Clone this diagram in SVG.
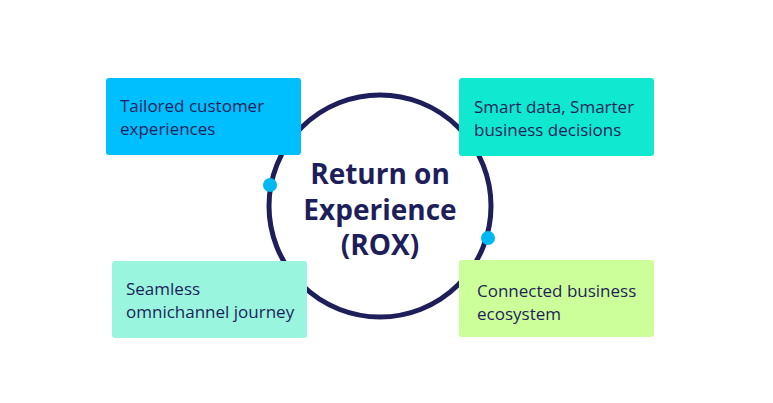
<svg xmlns="http://www.w3.org/2000/svg" width="773" height="403" viewBox="0 0 773 403">
<style>
.t{font-family:"Open Sans","Liberation Sans",sans-serif;font-size:17px;fill:#1e1e5a}
.c{font-family:"Open Sans","Liberation Sans",sans-serif;font-size:28px;font-weight:bold;fill:#1e1e5a;text-anchor:middle}
.dot{fill:#00b8f2}
rect.b{rx:3px}
</style>
<rect width="773" height="403" fill="#fff"/>
<g id="connectors">
<circle cx="380" cy="206" r="111" fill="none" stroke="#1e1e5a" stroke-width="5"/>
<circle class="dot" cx="270" cy="185" r="7"/>
<circle class="dot" cx="488" cy="238" r="7"/>
</g>
<g id="center"><text class="c" x="380" y="184">Return on</text><text class="c" x="380" y="220">Experience</text><text class="c" x="380" y="255">(ROX)</text></g>
<g id="n1"><rect class="b" x="106" y="78" width="195" height="77" fill="#00bfff"/><text class="t" x="120" y="112">Tailored customer</text><text class="t" x="120" y="135">experiences</text></g>
<g id="n2"><rect class="b" x="459" y="78" width="195" height="78" fill="#10e8d0"/><text class="t" x="474" y="113">Smart data, Smarter</text><text class="t" x="474" y="136">business decisions</text></g>
<g id="n3"><rect class="b" x="112" y="261" width="195" height="77" fill="#99f5de"/><text class="t" x="126" y="295">Seamless</text><text class="t" x="126" y="318">omnichannel journey</text></g>
<g id="n4"><rect class="b" x="459" y="260" width="195" height="77" fill="#ccff99"/><text class="t" x="477" y="297">Connected business</text><text class="t" x="477" y="320">ecosystem</text></g>
</svg>
